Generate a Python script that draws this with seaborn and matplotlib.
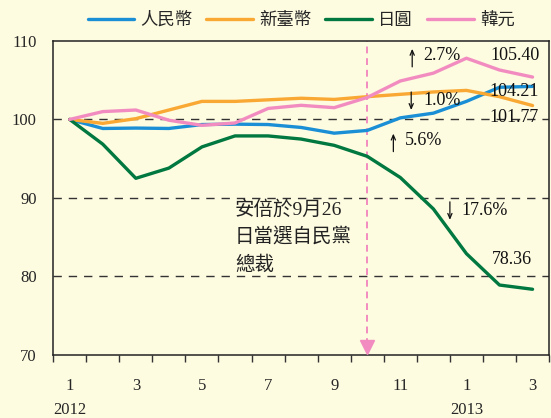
import pandas as pd
import numpy as np
import matplotlib
matplotlib.use('Agg')
import matplotlib.pyplot as plt
import seaborn as sns

# months Jan 2012 .. Mar 2013
months = ['1', '2', '3', '4', '5', '6', '7', '8', '9', '10', '11', '12', '1', '2', '3']
month_labels = ['1\n2012', '', '3', '', '5', '', '7', '', '9', '', '11', '', '1\n2013', '', '3']

# index values (Jan 2012 = 100)
rmb = [100, 98.85, 98.9, 98.85, 99.35, 99.4, 99.35, 98.98, 98.25, 98.6, 100.2, 100.8, 102.3, 104.1, 104.21]
twd = [100, 99.5, 100.1, 101.2, 102.3, 102.3, 102.5, 102.7, 102.55, 102.9, 103.2, 103.5, 103.7, 102.9, 101.77]
jpy = [100, 96.85, 92.5, 93.8, 96.5, 97.9, 97.9, 97.5, 96.7, 95.3, 92.6, 88.6, 82.9, 78.9, 78.36]
krw = [100, 101.0, 101.2, 99.9, 99.25, 99.55, 101.4, 101.8, 101.5, 102.8, 104.9, 105.9, 107.8, 106.3, 105.40]

series_names = ['人民幣', '新臺幣', '日圓', '韓元']
colors = ['#1a8fd6', '#f9a833', '#00783f', '#f28cc0']
bg = '#fdfbe0'

df = pd.DataFrame({
    'month': list(range(len(months))) * 4,
    'value': rmb + twd + jpy + krw,
    'currency': [n for n in series_names for _ in months],
})

sns.set_style('ticks')
plt.rcParams['font.family'] = ['Liberation Serif', 'Noto Sans CJK TC', 'DejaVu Sans']

fig = plt.figure(figsize=(5.51, 4.18), dpi=100, facecolor=bg)
ax = fig.add_axes([0.0965, 0.151, 0.9, 0.751])
ax.set_facecolor(bg)

# reference grid lines
for yv in [80, 90, 100]:
    ax.axhline(yv, color='#333333', lw=1.0, dashes=(6, 5), zorder=1)

sns.lineplot(data=df, x='month', y='value', hue='currency', palette=dict(zip(series_names, colors)),
             linewidth=2.4, ax=ax, zorder=3, legend=False)

# Abe election marker (Oct 2012)
event_idx = 9
ax.vlines(event_idx, 71.3, 110, color=colors[3], lw=1.4, linestyles=(0, (3.5, 2.5)), zorder=2)
ax.plot([event_idx], [71.0], marker='v', color=colors[3], markersize=10, zorder=4, clip_on=False)
ax.text(5.0, 85.0, '安倍於9月26\n日當選自民黨\n總裁', fontsize=14, va='center', ha='left',
        linespacing=1.6, color='#222222')

# end values
end_pos = {'韓元': (13.48, 108.1), '人民幣': (13.45, 103.55), '新臺幣': (13.45, 100.3), '日圓': (13.39, 82.2)}
for name, vals in zip(series_names, [rmb, twd, jpy, krw]):
    x, y = end_pos[name]
    ax.text(x, y, f'{vals[-1]:.2f}', fontsize=13, ha='center', va='center', color='#111111')

# changes since the event: (label, arrow x, arrow from, arrow to, text x, text y)
changes = [('2.7%', 10.36, 106.7, 109.0, 10.7, 108.1),
           ('1.0%', 10.33, 103.5, 101.2, 10.7, 102.45),
           ('5.6%', 9.79, 95.9, 98.2, 10.15, 97.35),
           ('17.6%', 11.5, 89.5, 87.2, 11.84, 88.35)]
for txt, ax_x, y0, y1, tx, ty in changes:
    ax.annotate('', xy=(ax_x, y1), xytext=(ax_x, y0),
                arrowprops=dict(arrowstyle='->,head_length=0.35,head_width=0.15', lw=0.9,
                                color='#111111', shrinkA=0, shrinkB=0))
    ax.text(tx, ty, txt, fontsize=13, ha='left', va='center', color='#111111')

ax.set_xlim(-0.5, len(months) - 0.5)
ax.set_ylim(70, 110)
ax.set_yticks([70, 80, 90, 100, 110])
ax.set_xticks(range(len(months)))
ax.set_xticklabels(month_labels, linespacing=1.6)
ax.set_xticks(np.arange(-0.5, len(months)), minor=True)
ax.tick_params(axis='x', which='major', length=0, pad=17, labelsize=12)
ax.tick_params(axis='x', which='minor', length=5, width=1, direction='out', color='#333333')
ax.tick_params(axis='y', length=0, pad=12, labelsize=12)
ax.set_xlabel('')
ax.set_ylabel('')
for s in ax.spines.values():
    s.set_visible(True)
    s.set_color('#222222')
    s.set_linewidth(1.1)

handles = [plt.Line2D([], [], color=c, lw=2.4) for c in colors]
ax.legend(handles, series_names, loc='lower center', bbox_to_anchor=(0.5, 1.0), ncol=4, frameon=False,
          fontsize=12.5, handlelength=2.7, handletextpad=0.35, columnspacing=0.8, borderaxespad=0.3)

plt.savefig('out.png', dpi=100, facecolor=bg)
